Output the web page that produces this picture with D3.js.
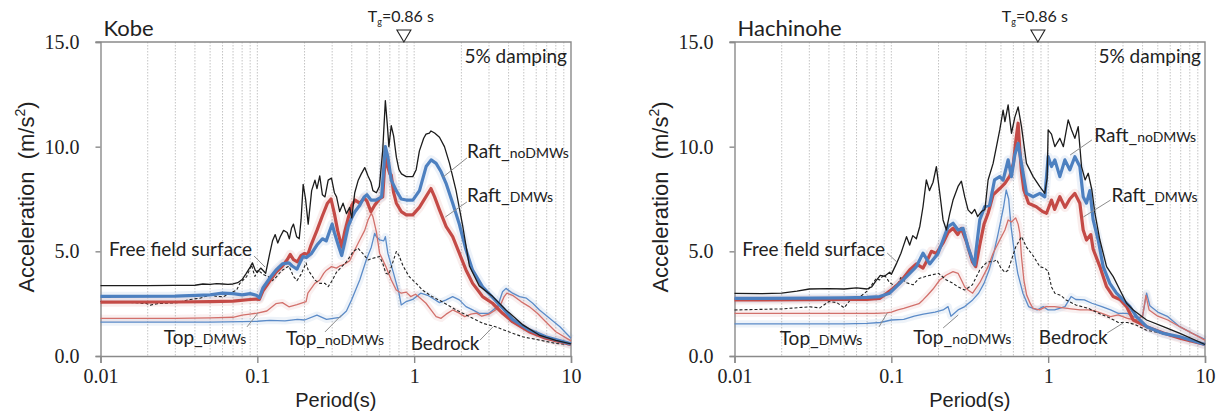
<!DOCTYPE html>
<html>
<head>
<meta charset="utf-8">
<script src="https://cdn.jsdelivr.net/npm/d3@7"></script>
<style>
  body { margin: 0; background: #fff; }
  svg { display: block; }
</style>
</head>
<body>
<svg id="chart" width="1232" height="416"></svg>
<script>
// ---- axis definitions ----
const periodTicks = [0.01, 0.1, 1, 10];
const periodTickLabels = ["0.01", "0.1", "1", "10"];
const accelTicks = [0, 5, 10, 15];
const accelTickLabels = ["0.0", "5.0", "10.0", "15.0"];
const panelTitles = ["Kobe", "Hachinohe"];
const groundPeriod = 0.86;
const dampingText = "5% damping";

// ---- Kobe record: [period (s), spectral acceleration (m/s2)] ----
const kobeFreeField = [[0.01,3.36],[0.02,3.36],[0.03,3.37],[0.04,3.38],[0.045,3.44],[0.05,3.42],[0.055,3.46],[0.06,3.44],[0.065,3.42],[0.07,3.44],[0.075,3.5],[0.08,3.65],[0.085,3.95],[0.09,4.25],[0.093,4.45],[0.097,4.1],[0.1,4.0],[0.105,4.2],[0.11,4.05],[0.113,3.95],[0.12,4.9],[0.125,5.5],[0.13,5.8],[0.135,5.4],[0.14,5.7],[0.147,6.0],[0.155,5.9],[0.16,5.6],[0.165,6.1],[0.17,6.3],[0.178,5.7],[0.185,5.6],[0.19,6.5],[0.196,8.2],[0.203,7.5],[0.211,6.3],[0.222,7.9],[0.233,8.4],[0.24,8.0],[0.25,8.6],[0.26,7.7],[0.27,7.6],[0.283,8.4],[0.297,8.5],[0.31,7.8],[0.32,7.6],[0.335,6.9],[0.352,7.3],[0.37,6.8],[0.388,7.1],[0.4,6.6],[0.418,7.8],[0.44,8.4],[0.46,8.7],[0.484,9.0],[0.508,8.6],[0.53,8.3],[0.546,7.9],[0.574,7.8],[0.6,8.1],[0.63,9.8],[0.655,12.2],[0.675,11.0],[0.69,10.0],[0.714,11.0],[0.74,10.5],[0.77,9.5],[0.8,8.9],[0.83,8.7],[0.89,8.57],[0.98,8.57],[1.03,8.9],[1.08,9.8],[1.15,10.4],[1.19,10.6],[1.25,10.65],[1.28,10.75],[1.35,10.65],[1.45,10.45],[1.56,10.0],[1.68,9.2],[1.85,7.9],[2.04,6.2],[2.25,4.3],[2.6,3.35],[3.16,2.85],[3.85,2.2],[4.9,1.5],[6.27,1.0],[8.0,0.75],[10,0.58]];
const kobeRaftNoDMWs = [[0.01,2.85],[0.03,2.86],[0.05,2.92],[0.06,3.0],[0.07,2.98],[0.08,2.92],[0.09,2.98],[0.0986,2.9],[0.103,2.78],[0.1085,3.25],[0.1194,3.7],[0.1313,4.1],[0.1445,4.4],[0.159,4.45],[0.1668,4.3],[0.179,4.15],[0.188,4.5],[0.196,4.75],[0.2046,4.7],[0.2216,4.9],[0.24,5.3],[0.26,5.6],[0.275,5.5],[0.29,6.0],[0.3,6.3],[0.31,5.9],[0.325,5.4],[0.345,4.8],[0.36,5.4],[0.38,6.2],[0.4,6.6],[0.42,6.9],[0.45,7.2],[0.48,7.6],[0.5,7.7],[0.53,7.45],[0.57,7.45],[0.62,7.6],[0.655,10.0],[0.68,9.5],[0.7145,8.4],[0.769,7.9],[0.827,7.5],[0.89,7.45],[0.981,7.45],[1.081,7.9],[1.192,9.05],[1.283,9.37],[1.38,9.2],[1.485,8.8],[1.597,8.25],[1.761,7.3],[1.94,6.3],[2.14,5.07],[2.358,4.1],[2.73,3.3],[3.164,2.8],[3.66,2.3],[4.24,1.75],[5.41,1.25],[6.9,0.92],[10,0.58]];
const kobeRaftDMWs = [[0.01,2.57],[0.03,2.58],[0.05,2.6],[0.07,2.62],[0.09,2.7],[0.0986,2.72],[0.103,2.7],[0.1085,3.1],[0.1194,3.55],[0.1313,4.0],[0.1445,4.3],[0.155,4.6],[0.162,4.85],[0.17,4.6],[0.18,4.5],[0.19,4.8],[0.2,4.9],[0.21,4.85],[0.22,5.3],[0.24,6.0],[0.26,6.7],[0.28,7.3],[0.295,7.5],[0.31,6.8],[0.325,6.0],[0.345,5.2],[0.36,5.9],[0.38,6.6],[0.4,7.2],[0.42,7.45],[0.45,7.3],[0.48,7.55],[0.5,7.4],[0.53,6.9],[0.56,7.2],[0.6,7.5],[0.63,7.6],[0.655,9.6],[0.68,9.0],[0.7,8.7],[0.714,8.65],[0.74,7.8],[0.77,7.3],[0.827,6.9],[0.89,6.74],[0.98,6.74],[1.08,7.1],[1.19,7.61],[1.28,8.0],[1.35,7.6],[1.45,6.98],[1.6,6.18],[1.76,5.7],[1.94,4.91],[2.14,4.11],[2.36,3.47],[2.73,2.84],[3.16,2.52],[3.66,2.04],[4.24,1.64],[5.41,1.16],[6.9,0.85],[10,0.55]];
const kobeTopDMWs = [[0.01,1.8],[0.03,1.8],[0.05,1.82],[0.07,1.85],[0.08,1.95],[0.0896,2.0],[0.1,2.05],[0.115,2.15],[0.1313,2.5],[0.1445,2.55],[0.159,2.35],[0.179,2.45],[0.2046,2.6],[0.21,3.0],[0.2326,3.47],[0.25,3.63],[0.265,3.95],[0.276,4.1],[0.297,4.27],[0.3195,4.2],[0.3355,4.3],[0.3522,4.35],[0.37,4.45],[0.388,4.55],[0.418,5.06],[0.4497,5.54],[0.4836,6.0],[0.508,6.5],[0.533,6.82],[0.546,6.65],[0.5738,5.94],[0.6025,4.9],[0.63,4.6],[0.66,4.27],[0.7145,3.63],[0.769,3.15],[0.827,3.0],[0.89,3.05],[0.95,2.84],[1.02,2.95],[1.1,2.75],[1.19,2.52],[1.28,2.2],[1.38,1.88],[1.485,1.8],[1.6,2.0],[1.76,2.2],[1.94,2.05],[2.1,1.88],[2.3,2.0],[2.5,2.05],[2.7,1.9],[3.0,2.0],[3.3,2.2],[3.55,2.44],[3.75,2.84],[3.9,3.0],[4.24,2.9],[4.8,2.6],[5.41,2.36],[6.1,2.04],[6.9,1.64],[8.0,1.16],[10,0.72]];
const kobeTopNoDMWs = [[0.01,1.62],[0.05,1.62],[0.08,1.64],[0.1,1.66],[0.12,1.7],[0.15,1.68],[0.18,1.75],[0.2,1.72],[0.24,1.95],[0.276,1.75],[0.3355,1.85],[0.37,2.15],[0.4,2.7],[0.4497,3.63],[0.4954,4.6],[0.533,5.2],[0.56,5.86],[0.5738,5.7],[0.6025,5.55],[0.64,5.5],[0.655,5.7],[0.68,4.9],[0.7392,3.95],[0.8,3.0],[0.827,2.44],[0.89,2.6],[0.98,2.7],[1.1,3.0],[1.22,2.9],[1.35,2.7],[1.45,2.55],[1.6,2.68],[1.76,2.84],[1.94,2.68],[2.14,2.36],[2.36,2.2],[2.6,2.04],[3.0,2.04],[3.4,2.36],[3.66,3.07],[3.85,3.23],[4.24,3.0],[4.7,2.84],[5.2,2.76],[5.7,2.52],[6.3,2.2],[7.3,1.8],[8.5,1.4],[10,0.85]];
const kobeBedrock = [[0.01,2.6],[0.0134,2.6],[0.0198,2.5],[0.0208,2.43],[0.023,2.5],[0.0307,2.55],[0.0373,2.7],[0.043,2.76],[0.05,2.92],[0.055,2.85],[0.0608,2.83],[0.067,3.0],[0.0738,3.15],[0.0774,3.47],[0.0855,3.79],[0.0918,4.35],[0.0964,3.8],[0.1012,4.1],[0.1088,3.9],[0.1169,3.8],[0.125,3.6],[0.1313,3.75],[0.14,4.0],[0.1445,4.1],[0.159,4.3],[0.17,3.8],[0.179,3.6],[0.19,3.9],[0.2046,4.45],[0.211,4.1],[0.2326,3.63],[0.25,3.47],[0.27,3.47],[0.2828,3.31],[0.3,3.6],[0.3195,4.0],[0.37,4.5],[0.41,5.0],[0.4386,5.15],[0.47,4.9],[0.5078,4.59],[0.5464,4.67],[0.6025,4.75],[0.63,4.43],[0.66,3.95],[0.69,3.9],[0.7392,4.59],[0.77,4.99],[0.8,4.8],[0.85,4.3],[0.93,3.79],[1.03,3.47],[1.13,3.15],[1.3,2.84],[1.5,2.6],[1.85,2.2],[2.25,1.88],[2.75,1.56],[3.3,1.4],[4.0,1.16],[4.9,0.92],[6.3,0.76],[8.0,0.6],[10,0.53]];

// ---- Hachinohe record ----
const hachFreeField = [[0.01,2.99],[0.015,2.98],[0.02,3.0],[0.025,3.1],[0.03,3.2],[0.04,3.22],[0.05,3.2],[0.06,3.25],[0.07,3.2],[0.075,3.3],[0.08,3.6],[0.085,3.85],[0.09,3.8],[0.0976,4.0],[0.1,3.9],[0.1076,4.4],[0.115,4.9],[0.1187,5.2],[0.125,5.7],[0.1309,5.3],[0.137,5.75],[0.1444,5.6],[0.152,6.2],[0.1592,7.13],[0.1672,8.41],[0.175,7.9],[0.1845,8.3],[0.1937,9.05],[0.2035,7.8],[0.2137,6.5],[0.2244,6.02],[0.2357,6.8],[0.2474,7.45],[0.2663,8.1],[0.2797,8.35],[0.2938,7.6],[0.3085,6.98],[0.325,6.8],[0.3402,7.0],[0.355,6.66],[0.3753,6.9],[0.395,7.0],[0.414,8.41],[0.4456,9.2],[0.468,10.0],[0.4913,10.8],[0.516,11.75],[0.53,11.2],[0.5555,12.0],[0.5834,10.64],[0.6127,11.4],[0.6433,11.9],[0.6757,10.96],[0.7273,9.2],[0.802,8.57],[0.8845,8.09],[0.952,7.77],[0.985,8.5],[1.0,10.8],[1.05,10.6],[1.103,10.0],[1.187,10.4],[1.25,10.0],[1.342,11.28],[1.41,10.8],[1.48,10.4],[1.554,10.96],[1.632,9.05],[1.72,8.41],[1.8,8.73],[1.9,7.93],[1.986,6.82],[2.137,5.54],[2.357,4.27],[2.599,3.79],[2.868,3.15],[3.162,2.52],[3.488,2.2],[4.243,1.72],[5.42,1.4],[6.925,1.08],[10,0.55]];
const hachRaftNoDMWs = [[0.01,2.75],[0.03,2.76],[0.05,2.78],[0.07,2.8],[0.0842,2.84],[0.0976,3.0],[0.1131,3.47],[0.1309,3.95],[0.1444,4.27],[0.1592,4.91],[0.1757,4.4],[0.1845,4.6],[0.1985,4.9],[0.2137,5.54],[0.2299,6.18],[0.2474,6.34],[0.2663,6.02],[0.2867,6.1],[0.3085,5.2],[0.3287,4.6],[0.34,4.35],[0.3452,4.9],[0.3663,6.5],[0.3937,7.13],[0.4232,7.2],[0.4549,8.41],[0.4913,8.57],[0.516,8.4],[0.5555,9.37],[0.5834,8.57],[0.6127,9.6],[0.6433,10.16],[0.6757,9.2],[0.7273,7.77],[0.802,7.61],[0.8845,7.77],[0.952,7.6],[1.0,9.52],[1.05,9.05],[1.103,9.37],[1.187,8.57],[1.278,9.37],[1.374,8.89],[1.48,9.52],[1.592,9.05],[1.672,7.61],[1.756,7.3],[1.844,7.9],[1.936,6.5],[2.084,5.54],[2.243,4.27],[2.473,3.47],[2.727,3.0],[3.007,2.68],[3.32,2.36],[3.66,1.88],[4.243,1.4],[5.42,1.08],[6.925,0.92],[10,0.55]];
const hachRaftDMWs = [[0.01,2.68],[0.03,2.69],[0.05,2.7],[0.07,2.7],[0.0842,2.75],[0.0976,3.1],[0.1131,3.5],[0.1309,4.11],[0.1444,4.4],[0.1592,4.2],[0.17,4.6],[0.18,5.0],[0.1937,4.9],[0.2137,5.4],[0.23,5.9],[0.2474,6.1],[0.265,5.8],[0.2797,6.1],[0.3,5.5],[0.3287,4.5],[0.345,4.27],[0.3663,5.3],[0.39,6.3],[0.414,6.82],[0.4456,7.7],[0.4913,8.0],[0.53,8.25],[0.57,8.6],[0.6,9.2],[0.623,10.32],[0.6433,11.12],[0.66,9.8],[0.6757,8.8],[0.7,7.93],[0.75,7.3],[0.84,7.13],[0.92,6.9],[0.976,6.82],[1.05,7.45],[1.1,7.0],[1.187,7.61],[1.28,7.1],[1.374,7.5],[1.48,7.77],[1.592,7.3],[1.672,6.02],[1.756,5.54],[1.87,5.8],[1.936,5.1],[2.137,4.27],[2.357,3.31],[2.599,2.84],[2.868,2.7],[3.162,2.36],[3.488,1.72],[4.243,1.4],[5.42,1.1],[6.925,0.85],[10,0.55]];
const hachTopDMWs = [[0.01,2.04],[0.05,2.04],[0.08,2.04],[0.0935,2.06],[0.1,2.1],[0.11,2.2],[0.12,2.28],[0.135,2.4],[0.15,2.5],[0.1592,2.68],[0.17,2.9],[0.1845,3.2],[0.2035,3.63],[0.2244,3.87],[0.2474,4.03],[0.2663,3.95],[0.2797,3.63],[0.2938,3.3],[0.3085,3.15],[0.33,3.0],[0.3663,3.5],[0.414,4.27],[0.4456,4.91],[0.4913,5.54],[0.53,6.02],[0.5555,6.5],[0.5834,6.4],[0.62,6.6],[0.6433,6.3],[0.66,5.86],[0.6757,4.75],[0.7,3.63],[0.73,2.9],[0.77,2.5],[0.8,2.28],[0.88,2.2],[0.97,2.36],[1.1,2.36],[1.25,2.3],[1.4,2.25],[1.6,2.2],[1.8,2.2],[2.0,2.15],[2.2,2.04],[2.5,1.88],[2.8,1.96],[3.2,1.8],[3.6,1.72],[4.0,1.9],[4.2,2.9],[4.4,2.2],[5.0,1.9],[5.8,1.72],[6.9,1.4],[8.3,1.08],[10,0.76]];
const hachTopNoDMWs = [[0.01,1.53],[0.05,1.53],[0.07,1.56],[0.085,1.6],[0.1,1.72],[0.12,1.75],[0.14,1.9],[0.16,2.0],[0.19,2.1],[0.2137,2.2],[0.23,2.36],[0.24,1.9],[0.2663,2.2],[0.2938,2.36],[0.33,2.68],[0.36,3.0],[0.39,3.47],[0.42,4.11],[0.45,4.91],[0.48,5.86],[0.52,7.13],[0.54,7.93],[0.56,7.5],[0.58,6.18],[0.61,4.91],[0.64,3.95],[0.69,3.0],[0.75,2.36],[0.85,2.2],[0.93,2.36],[1.0,2.2],[1.1,2.2],[1.28,2.36],[1.4,2.84],[1.5,2.7],[1.7,2.68],[1.9,2.52],[2.2,2.36],[2.5,2.2],[2.8,2.04],[3.2,2.04],[3.7,1.8],[4.0,1.9],[4.243,3.0],[4.45,2.4],[5.0,2.1],[5.8,1.88],[6.9,1.4],[8.3,1.08],[10,0.8]];
const hachBedrock = [[0.01,2.2],[0.02,2.25],[0.03,2.35],[0.035,2.3],[0.04,2.6],[0.045,2.55],[0.05,2.3],[0.055,2.7],[0.06,2.8],[0.065,2.9],[0.07,3.1],[0.075,3.4],[0.08,3.7],[0.0842,3.63],[0.09,3.9],[0.0976,3.5],[0.1076,3.31],[0.115,3.75],[0.125,3.5],[0.1375,3.4],[0.15,3.7],[0.165,3.8],[0.18,3.87],[0.2,3.95],[0.2244,3.63],[0.2474,3.47],[0.2663,3.3],[0.2938,3.15],[0.3287,3.4],[0.3663,4.11],[0.4,4.43],[0.42,4.5],[0.4456,4.5],[0.47,4.6],[0.5,4.2],[0.53,4.0],[0.5555,4.1],[0.5834,4.59],[0.62,5.2],[0.6757,5.7],[0.7273,5.2],[0.8,4.8],[0.8845,4.27],[0.952,4.19],[1.0,4.05],[1.05,3.3],[1.103,3.0],[1.2,2.9],[1.3,2.68],[1.5,2.44],[1.8,2.28],[2.1,2.04],[2.5,1.8],[2.8,1.6],[3.2,1.6],[3.6,1.5],[4.2,1.24],[5.4,1.08],[6.9,0.92],[10,0.55]];

// ---- line styles (drawing order: first is bottom) ----
const styles = {
  topNo:   { color: "#5b8bc8", width: 1.3 },
  topDMW:  { color: "#d2706b", width: 1.3 },
  bedrock: { color: "#222222", width: 1.1, dash: "3,2" },
  raftDMW: { color: "#c44a46", width: 3.2 },
  raftNo:  { color: "#4d80c0", width: 3.2 },
  free:    { color: "#1c1c1c", width: 1.3 }
};
const drawOrder = ["topNo", "topDMW", "bedrock", "raftDMW", "raftNo", "free"];

// ---- panel layout and label placement (label anchors in data space) ----
const panels = [
  {
    title: panelTitles[0], left: 100.5, right: 571,
    series: { free: kobeFreeField, raftNo: kobeRaftNoDMWs, raftDMW: kobeRaftDMWs,
              topDMW: kobeTopDMWs, topNo: kobeTopNoDMWs, bedrock: kobeBedrock },
    labels: [
      { text: ["Free field surface"], at: [0.0925, 5.11], anchor: "end", leader: [[0.0953, 4.78], [0.112, 4.25]] },
      { text: ["Top_", "DMWs"], at: [0.0464, 0.91], anchor: "middle", leader: [[0.0859, 1.39], [0.101, 2.05]] },
      { text: ["Top_", "noDMWs"], at: [0.313, 0.86], anchor: "middle", leader: [[0.27, 1.15], [0.345, 1.96]] },
      { text: ["Bedrock"], at: [1.574, 0.62], anchor: "middle", leader: [[2.63, 0.76], [3.18, 1.39]] },
      { text: ["Raft_", "noDMWs"], at: [2.17, 9.79], anchor: "start", leader: [[2.17, 9.46], [1.53, 8.55]] },
      { text: ["Raft_", "DMWs"], at: [2.17, 7.69], anchor: "start", leader: [[2.17, 7.36], [1.58, 6.64]] }
    ]
  },
  {
    title: panelTitles[1], left: 734.5, right: 1205,
    series: { free: hachFreeField, raftNo: hachRaftNoDMWs, raftDMW: hachRaftDMWs,
              topDMW: hachTopDMWs, topNo: hachTopNoDMWs, bedrock: hachBedrock },
    labels: [
      { text: ["Free field surface"], at: [0.0913, 5.11], anchor: "end", leader: [[0.0941, 4.92], [0.1085, 4.49]] },
      { text: ["Top_", "DMWs"], at: [0.0356, 0.86], anchor: "middle", leader: [[0.0834, 1.39], [0.0941, 2.05]] },
      { text: ["Top_", "noDMWs"], at: [0.283, 0.91], anchor: "middle", leader: [[0.214, 1.34], [0.267, 1.96]] },
      { text: ["Bedrock"], at: [1.445, 0.91], anchor: "middle", leader: [[2.38, 1.1], [3.01, 1.58]] },
      { text: ["Raft_", "noDMWs"], at: [1.97, 10.56], anchor: "start", leader: [[1.9, 10.32], [1.38, 9.6]] },
      { text: ["Raft_", "DMWs"], at: [2.53, 7.69], anchor: "start", leader: [[2.5, 7.45], [1.675, 6.64]] }
    ]
  }
];

const TOP = 42, BOTTOM = 356;
const axisColor = "#8a8a8a";
const labelFont = "Lato, 'Open Sans', sans-serif";
const svg = d3.select("#chart");

panels.forEach(p => {
  const x = d3.scaleLog().domain([0.01, 10]).range([p.left, p.right]);
  const y = d3.scaleLinear().domain([0, 15]).range([BOTTOM, TOP]);
  const g = svg.append("g");

  // minor log grid
  const gridVals = [];
  [0.01, 0.1, 1].forEach(d => { for (let k = 1; k <= 9; k++) if (d * k > 0.01) gridVals.push(d * k); });
  g.append("g").selectAll("line").data(gridVals).join("line")
    .attr("x1", d => x(d)).attr("x2", d => x(d))
    .attr("y1", TOP).attr("y2", BOTTOM)
    .attr("stroke", "#c4c4c4").attr("stroke-width", 1)
    .attr("stroke-dasharray", "1.5,1.5");

  // frame (top and right)
  g.append("path")
    .attr("d", `M${x(0.01) - 5},${y(15)}H${x(10)}V${y(0)}`)
    .attr("fill", "none").attr("stroke", axisColor).attr("stroke-width", 1.4);

  // y axis
  const yAxis = d3.axisLeft(y).tickValues(accelTicks)
    .tickFormat((d, i) => accelTickLabels[i]).tickSize(5).tickPadding(16);
  const ya = g.append("g").attr("transform", `translate(${x(0.01)},0)`).call(yAxis);
  ya.select(".domain").attr("stroke", axisColor).attr("stroke-width", 1.4);
  ya.selectAll(".tick line").attr("stroke", axisColor).attr("stroke-width", 1.4);
  ya.selectAll(".tick text").attr("font-family", "'Liberation Serif', 'Times New Roman', serif")
    .attr("font-size", 20).attr("fill", "#222");

  // x axis
  const xAxis = d3.axisBottom(x).tickValues(periodTicks)
    .tickFormat((d, i) => periodTickLabels[i]).tickSize(7).tickPadding(6);
  const xa = g.append("g").attr("transform", `translate(0,${y(0)})`).call(xAxis);
  xa.select(".domain").attr("stroke", axisColor).attr("stroke-width", 1.4);
  xa.selectAll(".tick line").attr("stroke", axisColor).attr("stroke-width", 1.4);
  xa.selectAll(".tick text").attr("font-family", "'Liberation Serif', 'Times New Roman', serif")
    .attr("font-size", 20).attr("fill", "#222");

  // axis titles
  g.append("text")
    .attr("x", (p.left + p.right) / 2).attr("y", 407)
    .attr("text-anchor", "middle")
    .attr("font-family", "'Liberation Sans', Arial, sans-serif").attr("font-size", 20).attr("fill", "#222")
    .text("Period(s)");
  const yt = g.append("text")
    .attr("transform", `translate(${p.left - 67},${(TOP + BOTTOM) / 2 - 2}) rotate(-90)`)
    .attr("text-anchor", "middle")
    .attr("font-family", "'Liberation Sans', Arial, sans-serif").attr("font-size", 22).attr("fill", "#222");
  yt.append("tspan").text("Acceleration\u00a0 (m/s");
  yt.append("tspan").attr("font-size", 14).attr("dy", -9).text("2");
  yt.append("tspan").attr("dy", 9).text(")");

  // curves: soft halo first, then the lines themselves
  const line = d3.line().x(d => x(d[0])).y(d => y(d[1]));
  const curves = g.append("g");
  drawOrder.forEach(key => {
    const s = styles[key];
    if (key !== "free" && key !== "bedrock") {
      curves.append("path").datum(p.series[key])
        .attr("d", line).attr("fill", "none")
        .attr("stroke", s.color).attr("stroke-opacity", 0.1)
        .attr("stroke-width", s.width + 6).attr("stroke-linejoin", "round");
    }
  });
  drawOrder.forEach(key => {
    const s = styles[key];
    curves.append("path").datum(p.series[key])
      .attr("d", line).attr("fill", "none")
      .attr("stroke", s.color).attr("stroke-width", s.width)
      .attr("stroke-linejoin", "round")
      .attr("stroke-dasharray", s.dash || null);
  });

  // series labels with leader lines
  p.labels.forEach(l => {
    g.append("line")
      .attr("x1", x(l.leader[0][0])).attr("y1", y(l.leader[0][1]))
      .attr("x2", x(l.leader[1][0])).attr("y2", y(l.leader[1][1]))
      .attr("stroke", "#8c8c8c").attr("stroke-width", 1);
    const t = g.append("text")
      .attr("x", x(l.at[0])).attr("y", y(l.at[1]))
      .attr("dy", "0.35em")
      .attr("text-anchor", l.anchor)
      .attr("font-family", labelFont).attr("font-size", 19).attr("fill", "#222");
    t.append("tspan").text(l.text[0]);
    if (l.text[1]) t.append("tspan").attr("font-size", 14).text(l.text[1]);
  });

  // panel title and damping note
  g.append("text").attr("x", p.left + 3).attr("y", TOP - 6)
    .attr("font-family", labelFont).attr("font-size", 22).attr("fill", "#222")
    .text(p.title);
  g.append("text").attr("x", p.right - 4).attr("y", TOP + 21)
    .attr("text-anchor", "end")
    .attr("font-family", labelFont).attr("font-size", 19).attr("fill", "#222")
    .text(dampingText);

  // characteristic ground period marker
  const tx = x(groundPeriod);
  g.append("path")
    .attr("d", `M${tx - 7},${TOP - 12}L${tx + 7},${TOP - 12}L${tx},${TOP}Z`)
    .attr("fill", "#fff").attr("stroke", "#222").attr("stroke-width", 1.1);
  const tg = g.append("text").attr("x", tx - 3).attr("y", TOP - 20)
    .attr("text-anchor", "middle")
    .attr("font-family", labelFont).attr("font-size", 16).attr("fill", "#222");
  tg.append("tspan").text("T");
  tg.append("tspan").attr("font-size", 9).attr("dy", 3).text("g");
  tg.append("tspan").attr("dy", -3).text("=0.86 s");
});
</script>
</body>
</html>
